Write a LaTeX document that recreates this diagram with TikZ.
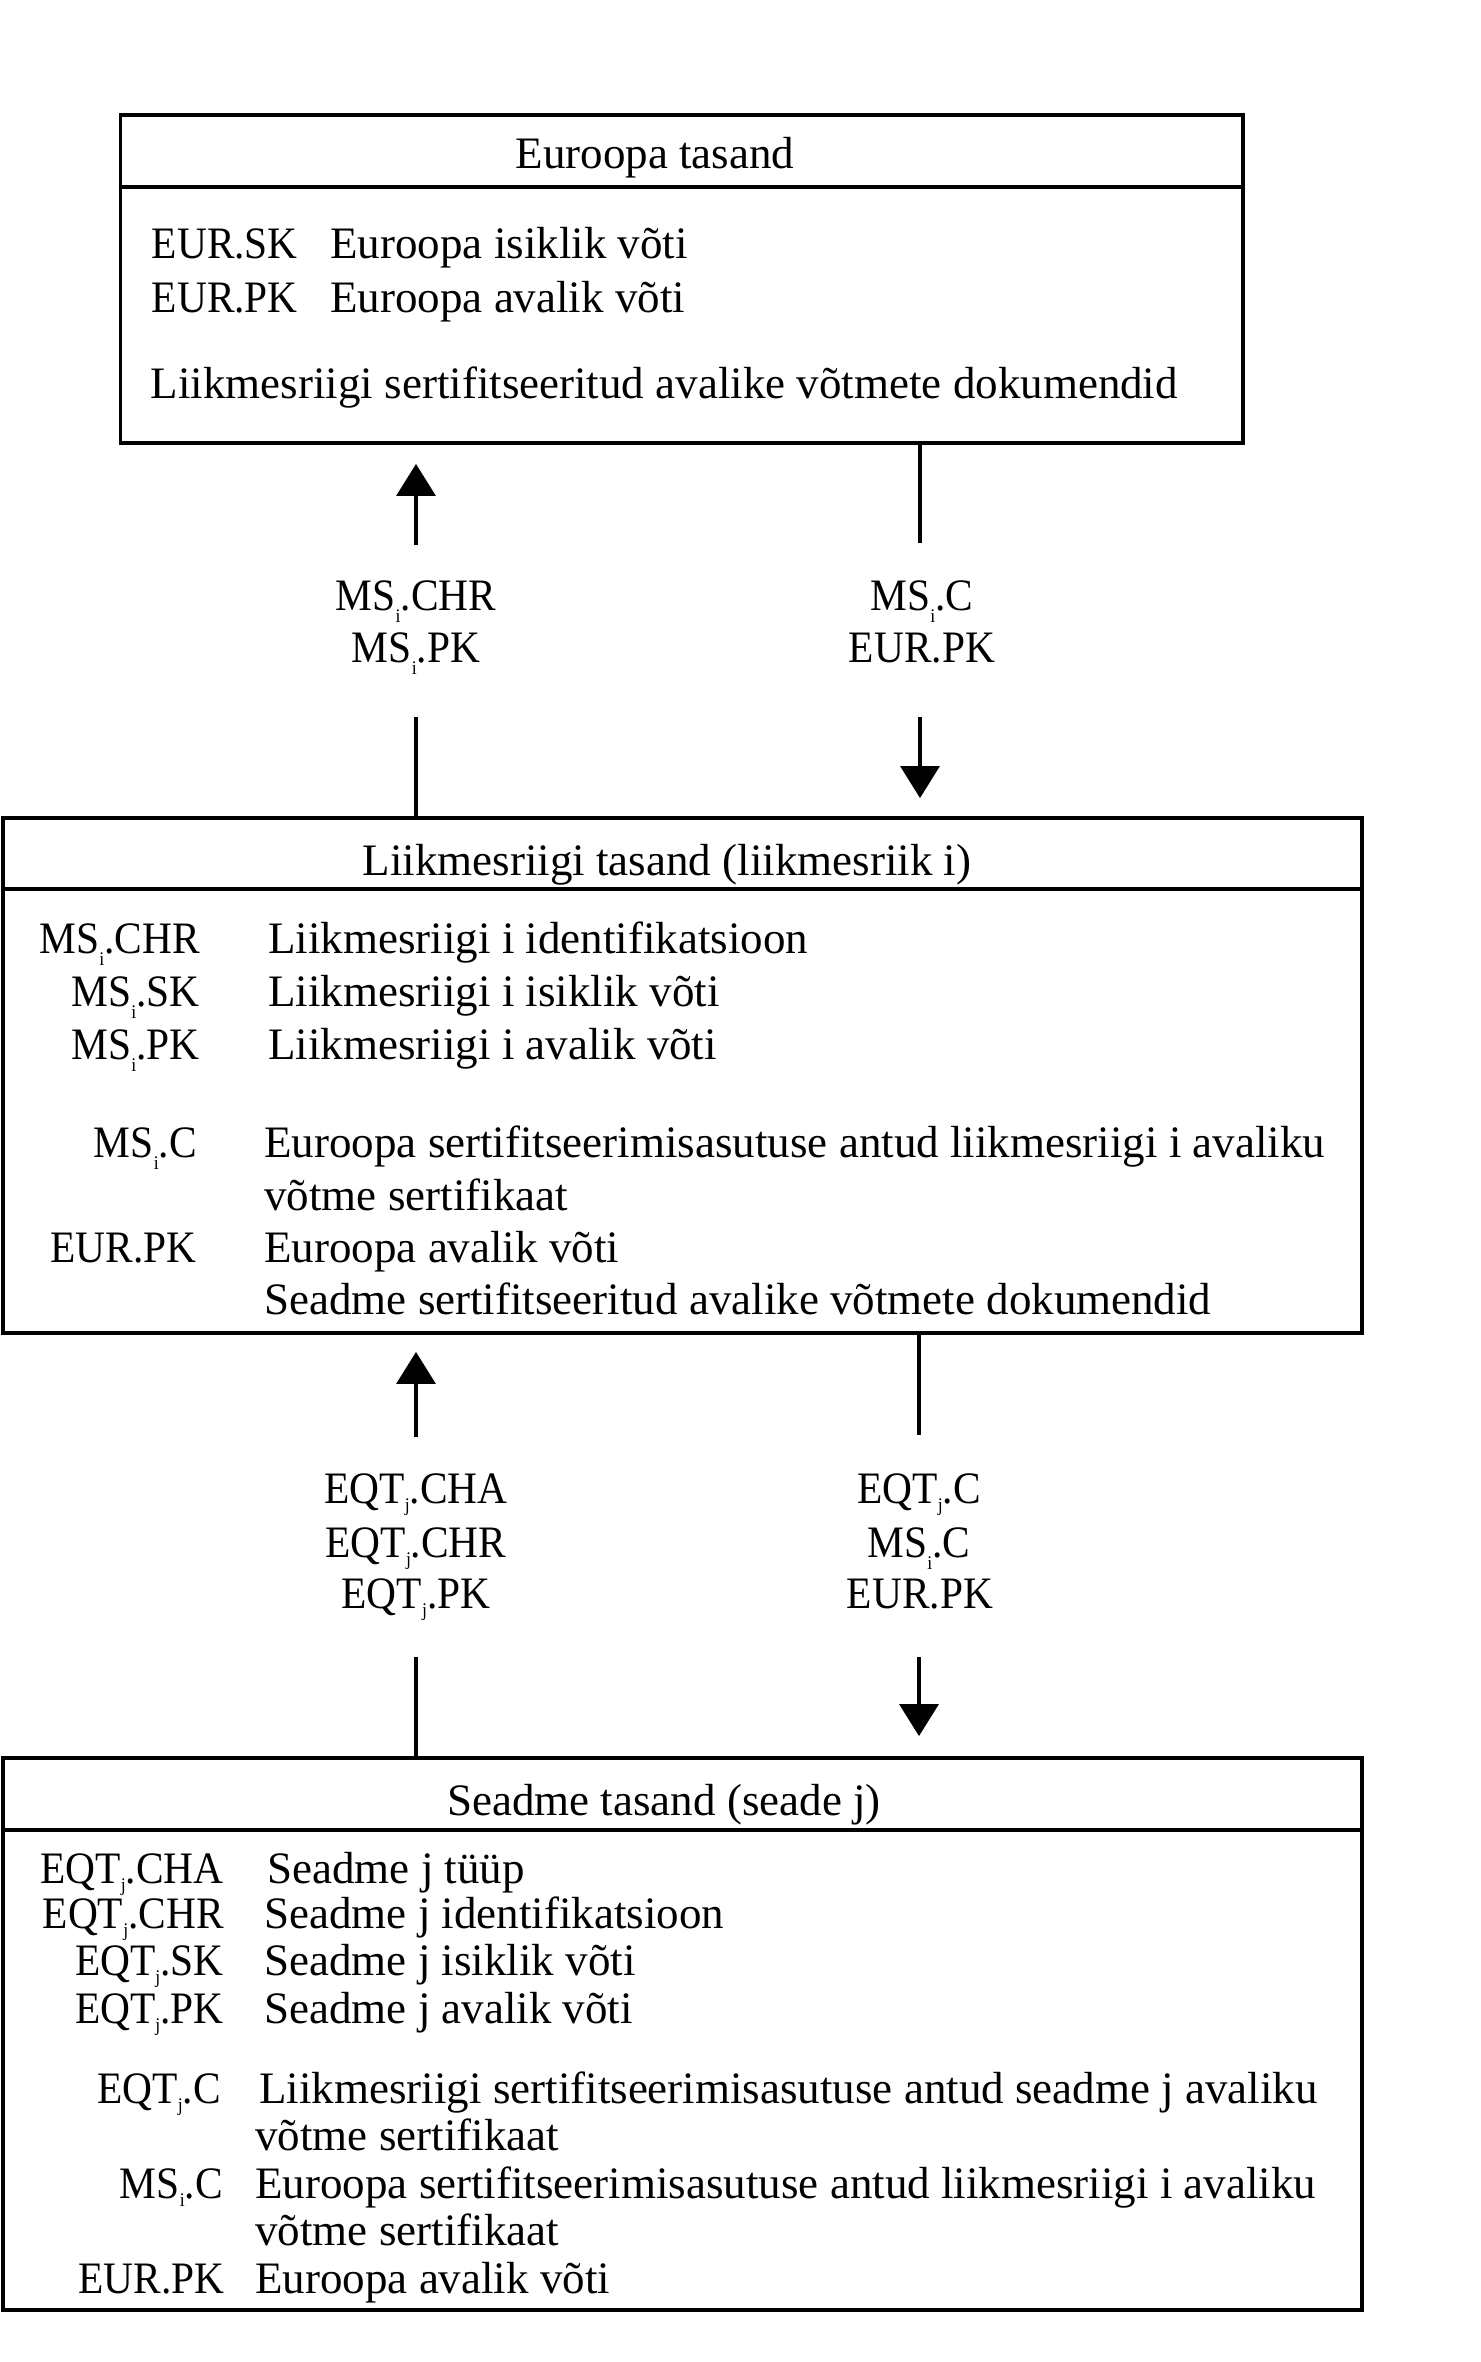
\documentclass[tikz,border=0pt]{standalone}
\usepackage{fontspec}
\setmainfont{Liberation Serif}
\newfontfamily\keyfont[FakeStretch=0.92]{Liberation Serif}
\usetikzlibrary{arrows.meta}
\newcommand{\lo}[2][7pt]{\raisebox{-#1}{\fontsize{11pt}{11pt}\selectfont #2}}

\begin{document}
\begin{tikzpicture}[every node/.style={font=\fontsize{25.6pt}{30pt}\selectfont, inner sep=0pt},
    tierbox/.style={draw, line width=2.2pt},
    keytxt/.style={anchor=base east, font=\fontsize{25.6pt}{30pt}\keyfont},
    desctxt/.style={anchor=base west},
    titletxt/.style={anchor=base},
    lbltxt/.style={anchor=base, font=\fontsize{25.6pt}{30pt}\keyfont},
    link/.style={line width=1.9pt},
    linkarr/.style={link, -{Triangle[width=0.78cm, length=0.64cm]}}]
      \useasboundingbox (0,0) rectangle (29.62,-47.24);

      % European level
      \node[tierbox, minimum width=22.45cm, minimum height=6.56cm] (eur) at (13.635,-5.58) {};
      \draw[link, line width=2.2pt] ([yshift=-1.48cm]eur.north west) -- ([yshift=-1.48cm]eur.north east);
      \node[titletxt] (eurtitle) at (13.10,-3.36) {Euroopa tasand};
      \node[desctxt, font=\fontsize{25.6pt}{30pt}\keyfont] (eursk) at (3.03,-5.16) {EUR.SK};
      \node[desctxt] (eurskd) at (6.60,-5.16) {Euroopa isiklik võti};
      \node[desctxt, font=\fontsize{25.6pt}{30pt}\keyfont] (eurpk) at (3.03,-6.24) {EUR.PK};
      \node[desctxt] (eurpkd) at (6.60,-6.24) {Euroopa avalik võti};
      \node[desctxt] (eurdoc) at (3.01,-7.96) {Liikmesriigi sertifitseeritud avalike võtmete dokumendid};

      % Member state level
      \node[tierbox, minimum width=27.18cm, minimum height=10.30cm] (ms) at (13.65,-21.51) {};
      \draw[link, line width=2.2pt] ([yshift=-1.46cm]ms.north west) -- ([yshift=-1.46cm]ms.north east);
      \node[titletxt] (mstitle) at (13.34,-17.50) {Liikmesriigi tasand (liikmesriik i)};
      \node[keytxt] (mschr) at (4.00,-19.06) {MS\lo{i}.CHR};
      \node[desctxt] (mschrd) at (5.36,-19.06) {Liikmesriigi i identifikatsioon};
      \node[keytxt] (mssk) at (4.00,-20.12) {MS\lo{i}.SK};
      \node[desctxt] (msskd) at (5.36,-20.12) {Liikmesriigi i isiklik võti};
      \node[keytxt] (mspk) at (4.00,-21.18) {MS\lo{i}.PK};
      \node[desctxt] (mspkd) at (5.36,-21.18) {Liikmesriigi i avalik võti};
      \node[keytxt] (msc) at (3.94,-23.14) {MS\lo{i}.C};
      \node[desctxt] (mscd) at (5.28,-23.14) {Euroopa sertifitseerimisasutuse antud liikmesriigi i avaliku};
      \node[desctxt] (mscd2) at (5.28,-24.20) {võtme sertifikaat};
      \node[keytxt] (mseurpk) at (3.94,-25.24) {EUR.PK};
      \node[desctxt] (mseurpkd) at (5.28,-25.24) {Euroopa avalik võti};
      \node[desctxt] (msdoc) at (5.28,-26.28) {Seadme sertifitseeritud avalike võtmete dokumendid};

      % Equipment level
      \node[tierbox, minimum width=27.18cm, minimum height=11.04cm] (eqt) at (13.65,-40.68) {};
      \draw[link, line width=2.2pt] ([yshift=-1.48cm]eqt.north west) -- ([yshift=-1.48cm]eqt.north east);
      \node[titletxt] (eqttitle) at (13.28,-36.30) {Seadme tasand (seade j)};
      \node[keytxt] (eqtcha) at (4.48,-37.66) {EQT\lo[5pt]{j}.CHA};
      \node[desctxt] (eqtchad) at (5.34,-37.66) {Seadme j tüüp};
      \node[keytxt] (eqtchr) at (4.48,-38.56) {EQT\lo[5pt]{j}.CHR};
      \node[desctxt] (eqtchrd) at (5.28,-38.56) {Seadme j identifikatsioon};
      \node[keytxt] (eqtsk) at (4.48,-39.50) {EQT\lo[5pt]{j}.SK};
      \node[desctxt] (eqtskd) at (5.28,-39.50) {Seadme j isiklik võti};
      \node[keytxt] (eqtpk) at (4.48,-40.46) {EQT\lo[5pt]{j}.PK};
      \node[desctxt] (eqtpkd) at (5.28,-40.46) {Seadme j avalik võti};
      \node[keytxt] (eqtc) at (4.42,-42.06) {EQT\lo[5pt]{j}.C};
      \node[desctxt] (eqtcd) at (5.18,-42.06) {Liikmesriigi sertifitseerimisasutuse antud seadme j avaliku};
      \node[desctxt] (eqtcd2) at (5.10,-43.00) {võtme sertifikaat};
      \node[keytxt] (eqtmsc) at (4.46,-43.96) {MS\lo[5pt]{i}.C};
      \node[desctxt] (eqtmscd) at (5.10,-43.96) {Euroopa sertifitseerimisasutuse antud liikmesriigi i avaliku};
      \node[desctxt] (eqtmscd2) at (5.10,-44.90) {võtme sertifikaat};
      \node[keytxt] (eqteurpk) at (4.50,-45.86) {EUR.PK};
      \node[desctxt] (eqteurpkd) at (5.10,-45.86) {Euroopa avalik võti};

      % exchanges between European and member state level
      \node[lbltxt] (upchr) at (8.32,-12.20) {MS\lo{i}.CHR};
      \node[lbltxt] (uppk) at (8.32,-13.24) {MS\lo{i}.PK};
      \node[lbltxt] (downc) at (18.44,-12.20) {MS\lo{i}.C};
      \node[lbltxt] (downpk) at (18.44,-13.24) {EUR.PK};
      \coordinate (upa) at (8.32,-14.34);
      \coordinate (upb) at (8.32,-10.90);
      \coordinate (downa) at (18.40,-10.86);
      \coordinate (downb) at (18.40,-14.34);
      \draw[link] (ms.north -| upa) -- (upa);
      \draw[linkarr, shorten >=0.38cm] (upb) -- (upb |- eur.south);
      \draw[link] (eur.south -| downa) -- (downa);
      \draw[linkarr, shorten >=0.36cm] (downb) -- (downb |- ms.north);

      % exchanges between member state and equipment level
      \node[lbltxt] (upeqtcha) at (8.32,-30.06) {EQT\lo[5pt]{j}.CHA};
      \node[lbltxt] (upeqtchr) at (8.32,-31.14) {EQT\lo[5pt]{j}.CHR};
      \node[lbltxt] (upeqtpk) at (8.32,-32.16) {EQT\lo[5pt]{j}.PK};
      \node[lbltxt] (downeqtc) at (18.38,-30.06) {EQT\lo[5pt]{j}.C};
      \node[lbltxt] (downmsc) at (18.38,-31.14) {MS\lo{i}.C};
      \node[lbltxt] (downeurpk) at (18.40,-32.16) {EUR.PK};
      \coordinate (eqtupa) at (8.32,-33.14);
      \coordinate (eqtupb) at (8.32,-28.74);
      \coordinate (eqtdowna) at (18.38,-28.70);
      \coordinate (eqtdownb) at (18.38,-33.14);
      \draw[link] (eqt.north -| eqtupa) -- (eqtupa);
      \draw[linkarr, shorten >=0.34cm] (eqtupb) -- (eqtupb |- ms.south);
      \draw[link] (ms.south -| eqtdowna) -- (eqtdowna);
      \draw[linkarr, shorten >=0.40cm] (eqtdownb) -- (eqtdownb |- eqt.north);
    \end{tikzpicture}
\end{document}
